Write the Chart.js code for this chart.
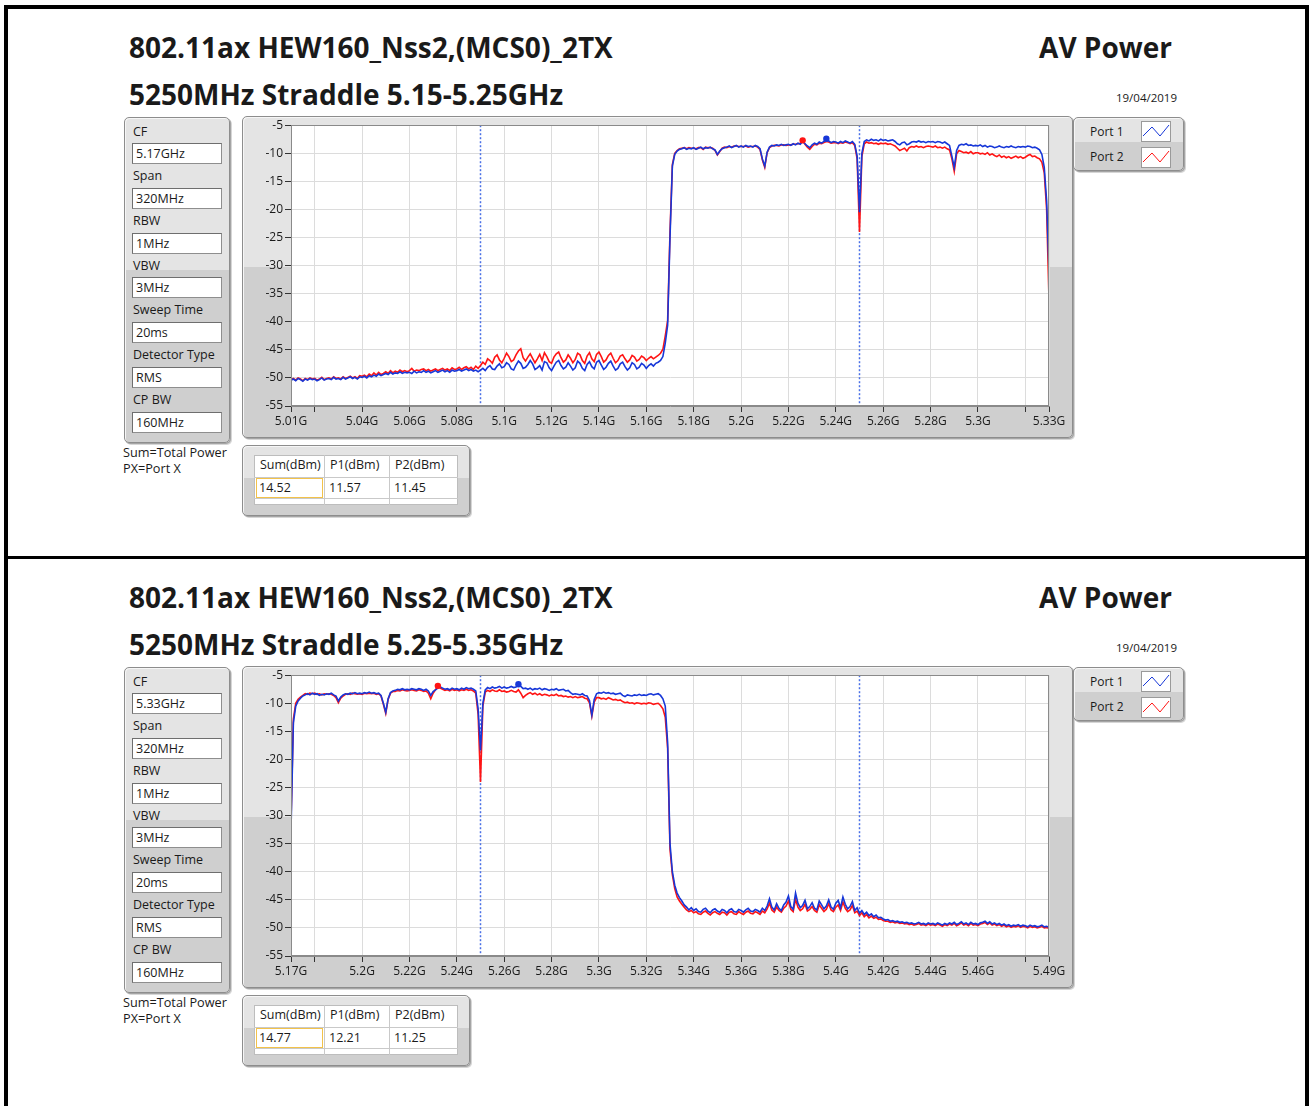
<!DOCTYPE html>
<html lang="en">
<head>
<meta charset="UTF-8">
<title>AV Power – 802.11ax HEW160 Nss2 (MCS0) 2TX</title>
<script src="https://cdn.jsdelivr.net/npm/chart.js@4.4.0/dist/chart.umd.min.js"></script>
<style>
  html,body{margin:0;background:#fff;font-family:"Open Sans",sans-serif;color:#1a1a1a}
  #page{position:relative;width:1309px;height:1106px;overflow:hidden}
  .bar{position:absolute;background:#000}
  .sec{position:absolute;left:0;width:1309px;height:550px}
  .t{position:absolute;white-space:nowrap}
  .title{font-weight:700;font-size:28px;line-height:30px}
  .small{font-size:12px;line-height:16px}
  .note{font-size:12.7px;line-height:16px}
  .date{font-size:11.5px;line-height:16px}
  .frame{position:absolute;box-sizing:border-box;border:1px solid #8d8d8d;border-radius:5px;
    background:linear-gradient(#e4e4e4 0,#e4e4e4 47%,#cfcfcf 47%,#cfcfcf 100%);
    box-shadow:1px 1px 0 #a5a5a5,2px 2px 0 #d6d6d6,inset 1px 1px 0 #f6f6f6}
  .lbl{position:absolute;left:133px;font-size:12.5px;line-height:16px}
  .box{position:absolute;left:132px;width:90px;height:21px;box-sizing:border-box;background:#fff;
    border:1px solid #8e8e8e;border-top-color:#6e6e6e;border-left-color:#6e6e6e;font-size:12.5px;line-height:19px;padding-left:3px}
  .row2{position:absolute;background:#cfcfcf}
  .swatch{position:absolute;left:1141px;width:30px;height:21px;box-sizing:border-box;background:#fff;border:1px solid #9a9a9a}
  .grid{position:absolute;left:254px;top:455px;width:204px;height:50px;background:#fff;border:1px solid #bdbdbd;box-sizing:border-box}
  .cell{position:absolute;font-size:12.5px;line-height:16px}
  canvas{position:absolute}
</style>
</head>
<body>
<div id="page">
  <div class="bar" style="left:4px;top:5px;width:4px;height:1101px"></div>
  <div class="bar" style="left:4px;top:5px;width:1305px;height:4px"></div>
  <div class="bar" style="left:1305px;top:5px;width:4px;height:1101px"></div>
  <div class="bar" style="left:4px;top:556px;width:1305px;height:3px"></div>
</div>

<script>
// ---- sweep data (dBm), one point per MHz ----
const STEP_MHZ = 1;
const TOP_F0 = 5010, TOP_F1 = 5330;
const BOT_F0 = 5170, BOT_F1 = 5490;

const topPort1 = [
  -50.4,-50.2,-50.5,-50.1,-50.3,-50.6,-50.2,-50.4,-50.1,-50.3,
  -50.2,-50.5,-50.3,-50.0,-50.4,-50.2,-50.1,-50.3,-49.9,-50.2,
  -50.1,-50.3,-49.9,-50.2,-50.0,-49.8,-50.1,-49.9,-50.2,-49.8,
  -49.9,-49.7,-50.0,-49.6,-49.8,-49.5,-49.7,-49.3,-49.6,-49.4,
  -49.2,-49.4,-49.0,-49.3,-49.1,-49.2,-48.9,-49.2,-49.0,-49.1,
  -49.0,-49.2,-48.8,-49.1,-48.9,-49.0,-48.7,-49.0,-48.8,-49.1,
  -48.9,-48.7,-49.0,-48.8,-48.6,-48.9,-48.7,-49.0,-48.6,-48.8,
  -48.7,-48.5,-48.8,-48.6,-48.4,-48.7,-48.5,-48.8,-48.6,-48.9,
  -48.6,-48.3,-48.7,-48.1,-47.8,-48.4,-48.5,-47.9,-47.5,-48.2,
  -48.0,-47.3,-47.6,-48.4,-48.6,-47.7,-47.0,-47.4,-48.3,-48.1,
  -47.6,-46.9,-47.5,-48.5,-48.2,-47.8,-48.6,-47.1,-47.3,-48.2,
  -48.7,-47.9,-47.2,-46.9,-47.8,-48.4,-48.1,-47.3,-47.9,-48.6,
  -48.2,-47.0,-47.4,-48.3,-48.7,-47.6,-47.1,-48.0,-48.4,-47.2,
  -46.9,-47.7,-48.5,-48.1,-47.4,-47.0,-47.9,-48.6,-48.3,-47.5,
  -47.2,-48.0,-48.6,-48.2,-47.3,-47.6,-48.4,-48.1,-47.4,-47.7,
  -48.3,-47.8,-47.5,-47.9,-47.4,-47.2,-46.9,-46.2,-43.8,-40.6,
  -25.0,-12.3,-10.2,-9.6,-9.3,-9.2,-9.0,-9.3,-9.1,-9.2,
  -9.0,-9.3,-9.1,-8.9,-9.2,-9.0,-9.1,-8.9,-9.2,-9.4,
  -10.2,-9.6,-9.2,-9.0,-8.9,-8.7,-9.0,-8.8,-8.6,-8.9,
  -8.7,-8.9,-8.6,-8.8,-8.7,-8.9,-8.6,-8.8,-9.2,-11.0,
  -12.3,-9.8,-8.9,-8.6,-8.7,-8.5,-8.6,-8.4,-8.6,-8.5,
  -8.4,-8.6,-8.3,-8.5,-8.2,-8.4,-7.9,-8.3,-8.7,-9.0,
  -8.5,-8.2,-8.4,-8.0,-8.2,-7.9,-7.4,-7.8,-8.1,-7.9,
  -8.0,-8.2,-7.9,-8.1,-7.8,-8.0,-8.2,-7.9,-8.4,-10.5,
  -20.5,-10.0,-7.9,-7.6,-7.8,-7.5,-7.7,-7.6,-7.8,-7.5,
  -7.7,-7.6,-7.8,-7.7,-7.6,-7.9,-8.3,-8.5,-8.1,-8.0,
  -8.5,-8.3,-8.0,-7.9,-8.0,-7.8,-8.0,-7.9,-8.1,-7.9,
  -8.0,-7.9,-8.1,-7.9,-8.0,-8.2,-8.0,-8.3,-8.6,-10.5,
  -12.5,-9.5,-8.6,-8.4,-8.5,-8.3,-8.6,-8.5,-8.7,-8.6,
  -8.7,-8.5,-8.8,-8.6,-8.9,-8.7,-8.8,-9.0,-8.9,-8.7,
  -8.9,-9.0,-8.8,-8.9,-8.7,-8.9,-9.0,-8.8,-8.9,-8.8,
  -8.9,-8.7,-8.8,-9.0,-8.9,-9.1,-9.4,-10.2,-12.5,-18.5,
  -31.0
];
const topPort2 = [
  -50.3,-50.1,-50.4,-50.0,-50.2,-50.5,-50.1,-50.3,-50.0,-50.2,
  -50.1,-50.4,-50.2,-49.9,-50.3,-50.1,-50.0,-50.2,-49.8,-50.1,
  -50.0,-50.2,-49.8,-50.1,-49.9,-49.7,-50.0,-49.8,-50.1,-49.6,
  -49.7,-49.5,-49.8,-49.3,-49.6,-49.1,-49.5,-49.0,-49.4,-49.2,
  -48.9,-49.2,-48.7,-49.1,-48.8,-49.0,-48.6,-48.9,-48.7,-48.9,
  -48.7,-48.3,-48.8,-48.6,-48.7,-48.5,-48.4,-48.7,-48.5,-48.8,
  -48.6,-48.4,-48.7,-48.5,-48.3,-48.6,-48.4,-48.7,-48.2,-48.5,
  -48.4,-48.1,-48.5,-48.2,-48.0,-48.4,-48.1,-48.5,-47.9,-48.3,
  -47.8,-47.2,-47.6,-46.6,-46.9,-47.4,-46.3,-45.9,-46.8,-47.3,
  -46.5,-45.6,-46.2,-47.1,-46.8,-45.9,-45.2,-44.8,-46.4,-47.0,
  -46.3,-45.7,-46.5,-47.3,-46.6,-45.8,-46.9,-45.5,-46.2,-47.1,
  -47.4,-46.3,-45.7,-45.4,-46.4,-47.2,-46.8,-45.9,-46.5,-47.3,
  -46.7,-45.6,-45.9,-46.9,-47.4,-46.1,-45.5,-46.6,-47.1,-45.8,
  -45.4,-46.2,-47.2,-46.8,-46.0,-45.6,-46.5,-47.3,-46.9,-46.1,
  -45.9,-46.6,-47.2,-46.8,-46.0,-46.3,-47.0,-46.7,-46.1,-46.4,
  -46.9,-46.5,-46.2,-46.6,-46.3,-46.0,-45.6,-44.9,-42.5,-39.8,
  -24.0,-12.0,-10.0,-9.5,-9.2,-9.1,-9.0,-9.2,-9.0,-9.1,
  -9.1,-9.2,-9.0,-9.0,-9.3,-8.9,-9.0,-9.0,-9.1,-9.5,
  -10.3,-9.7,-9.1,-8.9,-9.0,-8.8,-8.9,-8.7,-8.7,-8.8,
  -8.8,-8.8,-8.7,-8.9,-8.8,-8.8,-8.7,-8.9,-9.3,-11.2,
  -12.5,-9.9,-9.0,-8.7,-8.6,-8.6,-8.7,-8.5,-8.5,-8.6,
  -8.5,-8.5,-8.4,-8.4,-8.3,-8.2,-7.7,-8.4,-8.9,-9.3,
  -8.8,-8.4,-8.5,-8.2,-8.3,-8.1,-7.9,-8.0,-8.2,-8.1,
  -8.1,-8.3,-8.1,-8.2,-8.0,-8.1,-8.3,-8.1,-8.6,-11.0,
  -24.0,-10.6,-8.3,-8.0,-8.2,-8.1,-8.3,-8.2,-8.4,-8.2,
  -8.3,-8.2,-8.4,-8.3,-8.5,-8.7,-9.1,-9.5,-9.3,-9.1,
  -9.6,-9.0,-8.8,-8.9,-8.7,-8.9,-8.8,-9.0,-8.8,-8.7,
  -8.8,-8.9,-8.7,-9.0,-8.9,-9.1,-8.9,-9.2,-9.4,-11.0,
  -13.2,-10.1,-9.5,-9.7,-9.9,-9.8,-10.0,-9.7,-10.1,-9.9,
  -9.9,-10.1,-10.0,-10.2,-9.9,-10.3,-10.1,-10.4,-10.6,-10.3,
  -10.7,-10.5,-10.8,-10.6,-10.9,-10.7,-10.5,-10.8,-10.6,-10.9,
  -10.7,-10.4,-10.2,-10.6,-10.5,-10.8,-11.0,-11.6,-13.5,-20.0,
  -36.0
];
const botPort1 = [
  -32.6,-13.5,-10.5,-9.6,-9.1,-8.7,-8.5,-8.3,-8.5,-8.2,
  -8.4,-8.3,-8.6,-8.4,-8.5,-8.3,-8.4,-8.2,-8.5,-8.7,
  -9.6,-8.9,-8.5,-8.3,-8.4,-8.2,-8.3,-8.1,-8.3,-8.2,
  -8.3,-8.1,-8.2,-8.0,-8.2,-8.1,-8.3,-8.2,-8.6,-10.0,
  -11.6,-9.2,-8.1,-7.8,-7.7,-7.5,-7.6,-7.4,-7.6,-7.5,
  -7.6,-7.4,-7.5,-7.6,-7.4,-7.5,-7.7,-7.5,-7.8,-8.6,
  -7.9,-7.6,-7.3,-7.1,-7.3,-7.5,-7.4,-7.6,-7.3,-7.5,
  -7.4,-7.6,-7.3,-7.5,-7.2,-7.4,-7.3,-7.5,-7.8,-11.0,
  -18.4,-10.0,-7.6,-7.2,-7.4,-7.1,-7.3,-7.2,-7.0,-7.3,
  -7.1,-7.3,-7.2,-7.0,-7.2,-7.1,-6.6,-7.0,-7.4,-7.3,
  -7.5,-7.3,-7.6,-7.4,-7.5,-7.3,-7.6,-7.4,-7.5,-7.7,
  -7.5,-7.6,-7.4,-7.7,-7.6,-7.5,-7.8,-7.7,-8.1,-8.4,
  -8.3,-8.4,-8.5,-8.3,-8.6,-8.7,-9.5,-12.1,-9.3,-8.3,
  -8.1,-8.2,-8.0,-8.2,-8.1,-8.3,-8.2,-8.4,-8.3,-8.2,
  -8.6,-8.8,-8.5,-8.6,-8.7,-8.5,-8.6,-8.4,-8.6,-8.5,
  -8.6,-8.4,-8.3,-8.5,-8.4,-8.3,-8.6,-9.2,-10.5,-17.0,
  -35.0,-40.0,-42.4,-43.8,-44.6,-45.2,-45.9,-46.3,-46.8,-46.4,
  -46.9,-46.6,-47.1,-47.2,-46.7,-46.5,-47.0,-47.3,-46.8,-46.6,
  -47.0,-47.2,-46.7,-46.9,-47.3,-46.8,-46.6,-47.1,-47.2,-46.7,
  -46.9,-47.2,-46.8,-46.5,-47.0,-47.1,-46.7,-46.9,-47.2,-46.5,
  -46.9,-46.1,-44.8,-46.3,-46.8,-45.7,-46.5,-46.9,-45.9,-45.4,
  -44.3,-46.2,-46.7,-43.8,-45.6,-46.4,-46.0,-45.1,-46.6,-46.2,
  -45.5,-46.5,-46.8,-45.2,-45.9,-46.6,-46.1,-45.0,-46.3,-46.7,
  -45.6,-45.1,-46.4,-44.5,-45.8,-46.6,-46.2,-45.3,-46.9,-46.4,
  -47.4,-46.9,-47.6,-47.2,-47.8,-47.5,-48.0,-47.7,-48.2,-48.1,
  -48.4,-48.6,-48.5,-48.8,-48.7,-48.9,-48.8,-49.0,-48.9,-49.1,
  -49.0,-49.2,-49.1,-49.3,-49.2,-49.0,-49.3,-49.2,-49.4,-49.1,
  -49.3,-49.2,-49.4,-49.1,-49.3,-49.5,-49.2,-49.4,-49.1,-49.3,
  -49.0,-49.4,-49.2,-48.9,-49.3,-49.1,-49.4,-49.0,-49.3,-49.2,
  -49.4,-49.1,-49.0,-48.8,-49.2,-48.9,-49.3,-49.1,-49.4,-49.2,
  -49.5,-49.3,-49.6,-49.4,-49.7,-49.5,-49.6,-49.4,-49.7,-49.5,
  -49.6,-49.8,-49.5,-49.7,-49.6,-49.8,-49.7,-49.5,-49.8,-49.7,
  -49.9
];
const botPort2 = [
  -31.0,-12.8,-10.0,-9.3,-8.9,-8.6,-8.3,-8.4,-8.2,-8.3,
  -8.2,-8.4,-8.3,-8.5,-8.3,-8.4,-8.3,-8.4,-8.6,-9.0,
  -9.9,-9.1,-8.7,-8.4,-8.3,-8.4,-8.2,-8.3,-8.4,-8.3,
  -8.4,-8.2,-8.3,-8.2,-8.3,-8.2,-8.4,-8.3,-8.7,-10.2,
  -11.8,-9.3,-8.2,-7.9,-7.9,-7.7,-7.8,-7.6,-7.7,-7.8,
  -7.7,-7.6,-7.7,-7.8,-7.6,-7.7,-7.9,-7.8,-8.2,-9.2,
  -8.2,-7.6,-6.9,-7.3,-7.5,-7.7,-7.6,-7.8,-7.5,-7.7,
  -7.6,-7.8,-7.6,-7.7,-7.5,-7.7,-7.6,-7.8,-8.2,-12.0,
  -24.0,-10.5,-8.0,-7.7,-7.9,-7.6,-7.8,-7.9,-7.6,-7.9,
  -7.8,-8.0,-7.9,-7.7,-7.9,-8.0,-7.6,-8.2,-9.0,-8.6,
  -8.3,-8.1,-8.4,-8.2,-8.5,-8.3,-8.6,-8.4,-8.5,-8.7,
  -8.5,-8.6,-8.4,-8.7,-8.6,-8.8,-8.7,-8.9,-8.8,-9.0,
  -8.8,-9.0,-8.9,-8.8,-9.1,-9.2,-9.9,-12.3,-9.8,-9.0,
  -9.0,-9.2,-9.1,-9.3,-9.0,-9.2,-9.4,-9.3,-9.5,-9.4,
  -9.7,-9.9,-9.8,-10.0,-9.9,-10.1,-9.9,-10.0,-10.1,-10.0,
  -10.1,-9.9,-10.0,-10.2,-10.1,-10.0,-10.4,-11.0,-12.5,-18.0,
  -36.0,-40.5,-43.0,-44.5,-45.2,-45.8,-46.3,-46.8,-47.1,-46.9,
  -47.3,-47.1,-47.5,-47.6,-47.2,-47.0,-47.4,-47.7,-47.3,-47.1,
  -47.4,-47.6,-47.2,-47.3,-47.7,-47.2,-47.1,-47.5,-47.6,-47.1,
  -47.4,-47.6,-47.2,-47.0,-47.4,-47.5,-47.1,-47.3,-47.6,-47.0,
  -47.3,-46.6,-45.6,-46.8,-47.2,-46.3,-46.9,-47.2,-46.5,-46.1,
  -45.2,-46.7,-47.1,-44.9,-46.3,-46.9,-46.6,-45.8,-47.0,-46.7,
  -46.2,-46.9,-47.2,-45.9,-46.5,-47.1,-46.7,-45.7,-46.8,-47.1,
  -46.3,-45.9,-46.9,-45.4,-46.5,-47.1,-46.8,-46.0,-47.3,-47.0,
  -47.8,-47.3,-48.0,-47.6,-48.2,-47.9,-48.3,-48.1,-48.5,-48.4,
  -48.7,-48.8,-48.8,-49.0,-48.9,-49.1,-49.0,-49.2,-49.1,-49.3,
  -49.2,-49.4,-49.3,-49.5,-49.4,-49.2,-49.5,-49.4,-49.6,-49.3,
  -49.5,-49.4,-49.6,-49.3,-49.5,-49.7,-49.4,-49.6,-49.3,-49.5,
  -49.2,-49.6,-49.4,-49.1,-49.5,-49.3,-49.6,-49.2,-49.5,-49.4,
  -49.6,-49.3,-49.2,-49.0,-49.4,-49.1,-49.5,-49.3,-49.6,-49.4,
  -49.7,-49.5,-49.8,-49.6,-49.9,-49.7,-49.8,-49.6,-49.9,-49.7,
  -49.8,-50.0,-49.7,-49.9,-49.8,-50.0,-49.9,-49.7,-50.0,-49.9,
  -50.1
];

// axis ticks (MHz) – 2nd and 2nd-last carry a tick mark but no label
const topTicks = [5010,5020,5040,5060,5080,5100,5120,5140,5160,5180,5200,5220,5240,5260,5280,5300,5320,5330];
const botTicks = [5170,5180,5200,5220,5240,5260,5280,5300,5320,5340,5360,5380,5400,5420,5440,5460,5480,5490];
const yTicks = [-5,-10,-15,-20,-25,-30,-35,-40,-45,-50,-55];
// band-edge markers (MHz)
const topLimits = [5090, 5250];
const botLimits = [5250, 5410];

// instrument settings + channel power readouts
const settingLabels = ['CF','Span','RBW','VBW','Sweep Time','Detector Type','CP BW'];
const topSettings = ['5.17GHz','320MHz','1MHz','3MHz','20ms','RMS','160MHz'];
const botSettings = ['5.33GHz','320MHz','1MHz','3MHz','20ms','RMS','160MHz'];
const powerHeads = ['Sum(dBm)','P1(dBm)','P2(dBm)'];
const topPower = ['14.52','11.57','11.45'];
const botPower = ['14.77','12.21','11.25'];

const BLUE = '#1737d8', RED = '#ff1414', FONT = '"Open Sans", sans-serif';
const page = document.getElementById('page');

/* ---------- static panels ---------- */
function swatch(top, col){
  return `<div class="swatch" style="top:${top}px"><svg width="28" height="19"><polyline points="1,14 10,5 18,14 27,3" fill="none" stroke="${col}" stroke-width="1"/></svg></div>`;
}
function buildSection(top, band, settings, power, canvasId){
  const s = document.createElement('div');
  s.className = 'sec'; s.style.top = top + 'px';
  let h = `
    <div class="t title" style="left:129px;top:32px">802.11ax HEW160_Nss2,(MCS0)_2TX</div>
    <div class="t title" style="right:137px;top:32px">AV Power</div>
    <div class="t title" style="left:129px;top:79px">5250MHz Straddle ${band}</div>
    <div class="t date" style="right:132px;top:90px">19/04/2019</div>
    <div class="frame" style="left:124px;top:117px;width:106px;height:326px"></div>
    <div class="frame" style="left:242px;top:116px;width:831px;height:322px"></div>
    <div class="frame" style="left:1073px;top:117px;width:111px;height:54px"></div>
    <div class="row2" style="left:1077px;top:143px;width:103px;height:24px"></div>
    <div class="t small" style="left:1090px;top:124px">Port 1</div>
    <div class="t small" style="left:1090px;top:149px">Port 2</div>
    ${swatch(121, BLUE)}${swatch(147, RED)}
    <div class="t note" style="left:123px;top:444px">Sum=Total Power</div>
    <div class="t note" style="left:123px;top:460px">PX=Port X</div>
    <div class="frame" style="left:242px;top:445px;width:228px;height:71px"></div>
    <div class="grid"></div>
    <div style="position:absolute;left:254px;top:477px;width:204px;border-top:1px solid #c9c9c9"></div>
    <div style="position:absolute;left:254px;top:498px;width:204px;border-top:1px solid #c9c9c9"></div>
    <div style="position:absolute;left:324px;top:455px;height:50px;border-left:1px solid #c9c9c9"></div>
    <div style="position:absolute;left:389px;top:455px;height:50px;border-left:1px solid #c9c9c9"></div>
    <div style="position:absolute;left:256px;top:478px;width:67px;height:20px;box-sizing:border-box;border:1px solid #f2c24a"></div>
    <canvas id="${canvasId}" width="831" height="322" style="left:242px;top:116px;width:831px;height:322px"></canvas>`;
  const colX = [260, 330, 395];
  powerHeads.forEach((p,i)=>{ h += `<div class="cell" style="left:${colX[i]}px;top:457px">${p}</div>`; });
  power.forEach((p,i)=>{ h += `<div class="cell" style="left:${colX[i]-1}px;top:480px">${p}</div>`; });
  settingLabels.forEach((l,i)=>{
    const dy = i*44.7;
    h += `<div class="lbl" style="top:${123.5+dy}px">${l}</div>`;
    h += `<div class="box" style="top:${143.3+dy}px">${settings[i]}</div>`;
  });
  s.innerHTML = h;
  page.appendChild(s);
}

/* ---------- chart ---------- */
const plotBox = {
  id:'plotBox',
  beforeDraw(c){ const a=c.chartArea, x=c.ctx; x.save(); x.fillStyle='#fff'; x.fillRect(a.left,a.top,a.width,a.height); x.restore(); },
  afterDraw(c){ const a=c.chartArea, x=c.ctx; x.save(); x.strokeStyle='#8a8a8a'; x.lineWidth=1;
    x.strokeRect(Math.round(a.left)+.5,Math.round(a.top)+.5,Math.round(a.width)-1,Math.round(a.height)-1); x.restore(); }
};

const spectrum = (f0, vals) => vals.map((y,i)=>({x:f0+i*STEP_MHZ, y}));
function peakOf(f0, vals){ let k=0; vals.forEach((v,i)=>{ if(v>vals[k]) k=i; }); return {x:f0+k*STEP_MHZ, y:vals[k]}; }

function makeChart(id, f0, f1, p1, p2, ticks, limits){
  const ds = [
    {data:spectrum(f0,p1), borderColor:BLUE, borderWidth:1.6, order:1},
    {data:spectrum(f0,p2), borderColor:RED, borderWidth:1.6, order:2},
    {data:[peakOf(f0,p1)], showLine:false, pointRadius:3.2, pointBackgroundColor:BLUE, pointBorderWidth:0, order:0},
    {data:[peakOf(f0,p2)], showLine:false, pointRadius:3.2, pointBackgroundColor:RED, pointBorderWidth:0, order:0}
  ];
  limits.forEach(f=>ds.push({data:[{x:f,y:yTicks[0]},{x:f,y:yTicks[yTicks.length-1]}],
    borderColor:'#4a70e6', borderWidth:1.5, borderDash:[2,2], order:3}));
  const tickFont = {family:FONT, size:12};
  new Chart(document.getElementById(id), {
    type:'line',
    data:{datasets:ds},
    plugins:[plotBox],
    options:{
      responsive:false, animation:false, devicePixelRatio:1, parsing:false,
      layout:{padding:{left:0,right:24,top:9,bottom:0}},
      plugins:{legend:{display:false}, tooltip:{enabled:false}},
      elements:{point:{radius:0}, line:{tension:0}},
      scales:{
        x:{type:'linear', min:f0, max:f1,
          afterBuildTicks:s=>{ s.ticks = ticks.map(v=>({value:v})); },
          afterFit:s=>{ s.height = 32; },
          ticks:{autoSkip:false, maxRotation:0, padding:2, color:'#1a1a1a', font:tickFont,
            callback:(v,i,arr)=> (i===1 || i===arr.length-2) ? '' : (v/1000)+'G'},
          grid:{color:'#dcdcdc', tickColor:'#333', tickLength:6},
          border:{color:'#8a8a8a'}},
        y:{min:yTicks[yTicks.length-1], max:yTicks[0],
          afterBuildTicks:s=>{ s.ticks = yTicks.map(v=>({value:v})); },
          afterFit:s=>{ s.width = 49; },
          ticks:{padding:2, color:'#1a1a1a', font:tickFont},
          grid:{color:'#dcdcdc', tickColor:'#333', tickLength:6},
          border:{color:'#8a8a8a'}}
      }
    }
  });
}

buildSection(0, '5.15-5.25GHz', topSettings, topPower, 'topChart');
buildSection(550, '5.25-5.35GHz', botSettings, botPower, 'botChart');
makeChart('topChart', TOP_F0, TOP_F1, topPort1, topPort2, topTicks, topLimits);
makeChart('botChart', BOT_F0, BOT_F1, botPort1, botPort2, botTicks, botLimits);
</script>
</body>
</html>
